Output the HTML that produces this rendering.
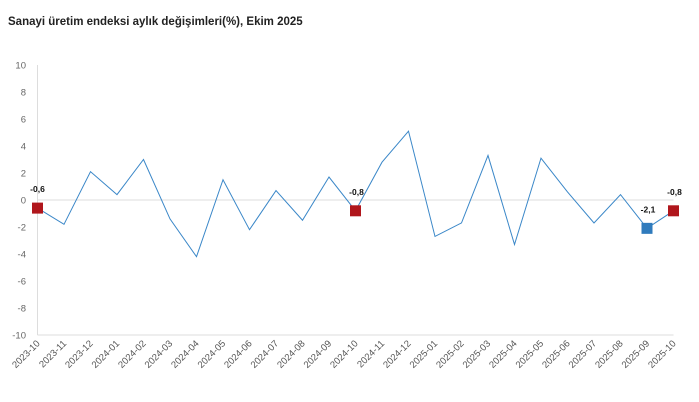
<!DOCTYPE html>
<html><head><meta charset="utf-8"><style>
body{margin:0;background:#fff;}
svg{display:block;font-family:"Liberation Sans",sans-serif;}
</style></head><body>
<svg id="chart" width="699" height="402">
<text x="8" y="25" font-size="11.5" font-weight="bold" fill="#222">Sanayi üretim endeksi aylık değişimleri(%), Ekim 2025</text>
<g id="axes"></g><g id="series"></g>
</svg>
<script>
const categories=["2023-10","2023-11","2023-12","2024-01","2024-02","2024-03","2024-04","2024-05","2024-06","2024-07","2024-08","2024-09","2024-10","2024-11","2024-12","2025-01","2025-02","2025-03","2025-04","2025-05","2025-06","2025-07","2025-08","2025-09","2025-10"];
const values=[-0.6,-1.8,2.1,0.4,3.0,-1.4,-4.2,1.5,-2.2,0.7,-1.5,1.7,-0.8,2.8,5.1,-2.7,-1.7,3.3,-3.3,3.1,0.6,-1.7,0.4,-2.1,-0.8];
const yTicks=[10,8,6,4,2,0,-2,-4,-6,-8,-10];
const highlighted=[0,12,23,24];
const NS="http://www.w3.org/2000/svg";
const x0=37.5,x1=673.5,yTop=65,yBot=335,yMin=-10,yMax=10;
function xs(i){return x0+(x1-x0)*i/(categories.length-1);}
function ys(v){return yBot-(v-yMin)/(yMax-yMin)*(yBot-yTop);}
function mk(t,a,p){const e=document.createElementNS(NS,t);for(const k in a)e.setAttribute(k,a[k]);p.appendChild(e);return e;}
const ax=document.getElementById('axes'),se=document.getElementById('series');
let l=mk('line',{x1:x0,y1:yTop,x2:x0,y2:yBot,stroke:'#ddd'},ax);

l=mk('line',{x1:x0,y1:yBot,x2:x1,y2:yBot,stroke:'#ddd'},ax);

l=mk('line',{x1:x0,y1:ys(0),x2:x1,y2:ys(0),stroke:'#ddd'},ax);

yTicks.forEach(v=>{const t=mk('text',{x:26,y:ys(v)+3.5,'text-anchor':'end','font-size':'9.5',fill:'#666'},ax);t.textContent=v;
});
categories.forEach((c,i)=>{const x=xs(i)+3,y=344;const t=mk('text',{x:x,y:y,'text-anchor':'end','font-size':'9.5',fill:'#555',transform:`rotate(-45 ${x} ${y})`},ax);t.textContent=c;
});
const p=mk('polyline',{points:values.map((v,i)=>xs(i)+','+ys(v)).join(' '),fill:'none',stroke:'#3a87c8','stroke-width':'1'},se);

highlighted.forEach(i=>{const col=i===23?'#2f7bbd':'#b0161c';
const r=mk('rect',{x:xs(i)-5.5,y:ys(values[i])-5.5,width:11,height:11,fill:col},se);

const t=mk('text',{x:xs(i)+(i===0?0:1),y:ys(values[i])-16,'text-anchor':'middle','font-size':'8.5','font-weight':'bold',fill:'#111'},se);
t.textContent=values[i].toFixed(1).replace('.',',');
});
</script>
</body></html>
